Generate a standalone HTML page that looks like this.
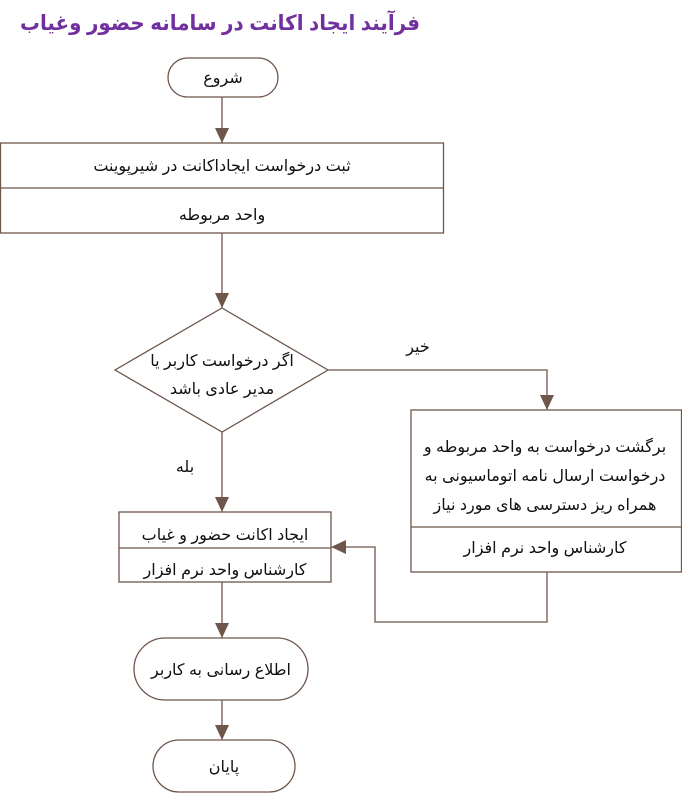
<!DOCTYPE html>
<html><head><meta charset="utf-8"><style>
body{margin:0;background:#fff;width:682px;height:793px;overflow:hidden}
svg text{font-family:"Liberation Sans","DejaVu Sans",sans-serif;font-size:16px;fill:#111}
</style></head><body>
<svg width="682" height="793" viewBox="0 0 682 793" xmlns="http://www.w3.org/2000/svg">
<defs><marker id="b" markerWidth="16" markerHeight="16" refX="15" refY="7" orient="auto" markerUnits="userSpaceOnUse"><path d="M0,0 L15,7 L0,14z" fill="#6e564b"/></marker></defs>
<text x="420" y="30" text-anchor="start" direction="rtl" textLength="400" lengthAdjust="spacingAndGlyphs" style="font-size:21px;font-weight:bold;fill:#7030a0">فرآیند ایجاد اکانت در سامانه حضور وغیاب</text>
<g fill="none" stroke="#6e564b" stroke-width="1.3">
<rect x="168" y="58" width="110" height="39" rx="19.5"/>
<line x1="222" y1="97" x2="222" y2="143" marker-end="url(#b)"/>
<rect x="0.5" y="143" width="443" height="90"/>
<line x1="0" y1="188" x2="444" y2="188"/>
<line x1="222" y1="233" x2="222" y2="308" marker-end="url(#b)"/>
<path d="M222,308 L328,370 L222,432 L115,370 Z"/>
<polyline points="328,370 547,370 547,410" marker-end="url(#b)"/>
<rect x="411" y="410" width="270.5" height="162"/>
<line x1="411" y1="527" x2="682" y2="527"/>
<line x1="222" y1="432" x2="222" y2="512" marker-end="url(#b)"/>
<rect x="119" y="512" width="212" height="70"/>
<line x1="119" y1="548" x2="331" y2="548"/>
<polyline points="547,572 547,622 375,622 375,547 331,547" marker-end="url(#b)"/>
<line x1="222" y1="582" x2="222" y2="638" marker-end="url(#b)"/>
<rect x="134" y="638" width="174" height="62" rx="31"/>
<line x1="222" y1="700" x2="222" y2="740" marker-end="url(#b)"/>
<rect x="153" y="740" width="142" height="52" rx="26"/>
</g>
<g direction="rtl">
<text x="223" y="83" text-anchor="middle">شروع</text>
<text x="222" y="171" text-anchor="middle">ثبت درخواست ایجاداکانت در شیرپوینت</text>
<text x="222" y="220" text-anchor="middle">واحد مربوطه</text>
<text x="222" y="366" text-anchor="middle">اگر درخواست کاربر یا</text>
<text x="222" y="394" text-anchor="middle">مدیر عادی باشد</text>
<text x="418" y="352" text-anchor="middle">خیر</text>
<text x="185" y="472" text-anchor="middle">بله</text>
<text x="545" y="452" text-anchor="middle">برگشت درخواست به واحد مربوطه و</text>
<text x="545" y="481" text-anchor="middle">درخواست ارسال نامه اتوماسیونی به</text>
<text x="545" y="510" text-anchor="middle">همراه ریز دسترسی های مورد نیاز</text>
<text x="545" y="553" text-anchor="middle">کارشناس واحد نرم افزار</text>
<text x="225" y="540" text-anchor="middle">ایجاد اکانت حضور و غیاب</text>
<text x="225" y="575" text-anchor="middle">کارشناس واحد نرم افزار</text>
<text x="221" y="675" text-anchor="middle">اطلاع رسانی به کاربر</text>
<text x="224" y="772" text-anchor="middle">پایان</text>
</g>
</svg>
</body></html>
